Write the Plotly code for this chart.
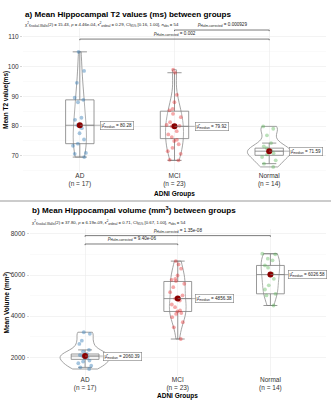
import numpy as np
import plotly.graph_objects as go

groups = ["AD", "MCI", "Normal"]
group_n = [17, 23, 14]
group_colors = ["rgba(55,126,184,0.45)", "rgba(228,26,28,0.38)", "rgba(77,175,74,0.38)"]

# Panel a: mean hippocampal T2 values (ms)
t2_AD = [104.9, 98.5, 94.5, 89.5, 88.8, 88.0, 82.8, 82.1, 80.28, 79.3, 77.6, 75.5, 74.1, 73.4, 71.0, 70.7, 69.6]
t2_MCI = [98.9, 97.9, 90.5, 88.0, 85.8, 85.3, 84.1, 83.0, 81.3, 80.4, 80.1, 79.92, 78.3, 77.2, 76.3, 75.4,
          75.0, 73.9, 72.7, 71.6, 70.7, 68.7, 68.5]
t2_Normal = [79.9, 79.1, 76.9, 74.3, 73.2, 72.6, 71.8, 71.38, 70.9, 70.5, 69.6, 68.5, 67.4, 66.3]
t2_median = [80.28, 79.92, 71.59]
t2_q1 = [74.1, 75.8, 70.2]
t2_q3 = [88.8, 85.0, 72.6]
t2_pairs = [("MCI", "Normal"), ("AD", "Normal")]
t2_p = ["0.000929", "0.002"]
t2_title = "a) Mean Hippocampal T2 values (ms) between groups"
t2_subtitle = ("χ<sup>2</sup><sub>Kruskal-Wallis</sub>(2) = 15.43, <i>p</i> = 4.46e-04, "
               "ε̂<sup>2</sup><sub>ordinal</sub> = 0.29, CI<sub>95%</sub> [0.16, 1.00], <i>n</i><sub>obs</sub> = 54")
t2_ylabel = "Mean T2 value(ms)"

# Panel b: mean hippocampal volume (mm3)
vol_AD = [3220, 3140, 2810, 2650, 2360, 2280, 2160, 2110, 2060.39, 2000, 1970, 1840, 1790, 1710, 1590, 1510, 1430]
vol_MCI = [6680, 6520, 6310, 5980, 5820, 5770, 5710, 5580, 5410, 5170, 5010, 4856.38, 4760, 4570, 4440, 4280,
           4230, 4150, 4110, 3950, 3710, 3460, 2890]
vol_Normal = [7040, 7010, 6800, 6720, 6470, 6360, 6070, 5983.16, 5820, 5500, 5300, 5090, 5010, 4520]
vol_median = [2060.39, 4856.38, 6026.58]
vol_q1 = [1900, 4230, 5090]
vol_q3 = [2160, 5690, 6470]
vol_pairs = [("AD", "Normal"), ("AD", "MCI")]
vol_p = ["1.35e-08", "9.40e-06"]
vol_title = "b) Mean Hippocampal volume (mm<sup>3</sup>) between groups"
vol_subtitle = ("χ<sup>2</sup><sub>Kruskal-Wallis</sub>(2) = 37.80, <i>p</i> = 6.19e-09, "
                "ε̂<sup>2</sup><sub>ordinal</sub> = 0.71, CI<sub>95%</sub> [0.67, 1.00], <i>n</i><sub>obs</sub> = 54")
vol_ylabel = "Mean Volume (mm<sup>3</sup>)"

x_title = "ADNI Groups"

FONT = "Liberation Sans, Arial, sans-serif"
W, H = 331, 400

panels = [
    dict(data=[t2_AD, t2_MCI, t2_Normal], med=t2_median, q1=t2_q1, q3=t2_q3, pairs=t2_pairs, p=t2_p,
         title=t2_title, sub=t2_subtitle, ylab=t2_ylabel, xs="x", ys="y",
         xdom=[23, 326], ydom=[28, 172], yrange=[64.6, 112.9], dtick=10, minor=5,
         vw=[0.14, 0.19, 0.46], bfrac=[0.986, 0.923], title_px=(23, 14.5, 24.5), ylab_x=6, xlab_y=194),
    dict(data=[vol_AD, vol_MCI, vol_Normal], med=vol_median, q1=vol_q1, q3=vol_q3, pairs=vol_pairs, p=vol_p,
         title=vol_title, sub=vol_subtitle, ylab=vol_ylabel, xs="x2", ys="y2",
         xdom=[29.5, 326], ydom=[229, 376], yrange=[1090, 8243], dtick=2000, minor=1000,
         vw=[0.54, 0.18, 0.20], bfrac=[0.955, 0.898], title_px=(30, 210, 222.5), ylab_x=7, xlab_y=396),
]

fig = go.Figure()
annotations = []
shapes = []

def nrd0(v):
    v = np.asarray(v, float)
    sd = v.std(ddof=1)
    iqr = np.subtract(*np.percentile(v, [75, 25]))
    return 0.9 * min(sd, iqr / 1.34) * len(v) ** -0.2

for pi, P in enumerate(panels):
    xs, ys = P["xs"], P["ys"]
    for gi, g in enumerate(groups):
        vals = P["data"][gi]
        arr = np.asarray(vals, float)
        q1, q3 = P["q1"][gi], P["q3"][gi]
        iqr = q3 - q1
        lo = arr[arr >= q1 - 1.5 * iqr].min()
        hi = arr[arr <= q3 + 1.5 * iqr].max()
        # violin
        fig.add_trace(go.Violin(x=[g] * len(vals), y=vals, xaxis=xs, yaxis=ys, width=P["vw"][gi],
                                spanmode="hard", bandwidth=nrd0(vals), points=False,
                                scalegroup="%s_%s" % (pi, g),
                                line=dict(color="#8C8C8C", width=0.8), fillcolor="rgba(255,255,255,0)",
                                box_visible=False, meanline_visible=False, showlegend=False, hoverinfo="skip"))
        # box (stats)
        fig.add_trace(go.Box(x=[g], q1=[q1], median=[P["med"][gi]], q3=[q3], lowerfence=[lo], upperfence=[hi],
                             xaxis=xs, yaxis=ys, width=0.3, boxpoints=False,
                             line=dict(color="#7F7F7F", width=0.8), fillcolor="rgba(255,255,255,0.15)",
                             showlegend=False, hoverinfo="skip"))
        # jittered points
        fig.add_trace(go.Box(x=[g] * len(vals), y=vals, xaxis=xs, yaxis=ys, width=0.3, boxpoints="all",
                             jitter=0.6, pointpos=0, line=dict(color="rgba(0,0,0,0)", width=0),
                             fillcolor="rgba(0,0,0,0)",
                             marker=dict(color=group_colors[gi], size=3.8, line=dict(width=0)),
                             showlegend=False, hoverinfo="skip"))
    # centrality points
    fig.add_trace(go.Scatter(x=groups, y=P["med"], xaxis=xs, yaxis=ys, mode="markers",
                             marker=dict(color="#8B0000", size=6), showlegend=False, hoverinfo="skip"))
    # centrality labels
    for gi, g in enumerate(groups):
        annotations.append(dict(x=gi, y=P["med"][gi], xref=xs, yref=ys,
                                text="μ̂<sub>median</sub> = %.2f" % P["med"][gi],
                                showarrow=True, arrowhead=0, arrowwidth=0.6, arrowcolor="#7F7F7F",
                                ax=37, ay=0, axref="pixel", ayref="pixel", standoff=0,
                                bgcolor="white", bordercolor="#7F7F7F", borderwidth=0.6, borderpad=1,
                                font=dict(family=FONT, size=4.6, color="#222")))
    # brackets
    lo_r, hi_r = P["yrange"]
    for bi, (a, b) in enumerate(P["pairs"]):
        yb = lo_r + P["bfrac"][bi] * (hi_r - lo_r)
        tip = 0.008 * (hi_r - lo_r)
        fig.add_trace(go.Scatter(x=[a, a, b, b], y=[yb - tip, yb, yb, yb - tip], xaxis=xs, yaxis=ys,
                                 mode="lines", line=dict(color="#444", width=0.7),
                                 showlegend=False, hoverinfo="skip", cliponaxis=False))
        xc = (groups.index(a) + groups.index(b)) / 2
        annotations.append(dict(x=xc, y=yb, xref=xs, yref=ys, yanchor="bottom", showarrow=False,
                                text="<i>p</i><sub>Holm-corrected</sub> = " + P["p"][bi],
                                font=dict(family=FONT, size=4.6, color="#222")))
    # titles
    tx, ty, sy = P["title_px"]
    annotations.append(dict(x=tx / W, y=1 - ty / H, xref="paper", yref="paper", xanchor="left", yanchor="middle",
                            showarrow=False, text="<b>" + P["title"] + "</b>",
                            font=dict(family=FONT, size=8.1, color="#000")))
    annotations.append(dict(x=tx / W, y=1 - sy / H, xref="paper", yref="paper", xanchor="left", yanchor="middle",
                            showarrow=False, text=P["sub"], font=dict(family=FONT, size=4.3, color="#222")))
    # y title
    annotations.append(dict(x=P["ylab_x"] / W, y=1 - (P["ydom"][0] + P["ydom"][1]) / 2 / H, xref="paper",
                            yref="paper", xanchor="center", yanchor="middle", textangle=-90, showarrow=False,
                            text="<b>" + P["ylab"] + "</b>", font=dict(family=FONT, size=6.5, color="#000")))
    # x title
    annotations.append(dict(x=(P["xdom"][0] + (P["xdom"][1] - P["xdom"][0]) * 1.6 / 3.2) / W,
                            y=1 - P["xlab_y"] / H, xref="paper", yref="paper", xanchor="center",
                            yanchor="middle", showarrow=False, text="<b>" + x_title + "</b>",
                            font=dict(family=FONT, size=6.5, color="#000")))

    axx = dict(domain=[P["xdom"][0] / W, P["xdom"][1] / W], anchor=ys, type="category",
               categoryorder="array", categoryarray=groups, range=[-0.6, 2.6],
               tickvals=groups, ticktext=["%s<br>(n = %d)" % (g, n) for g, n in zip(groups, group_n)],
               showgrid=True, gridcolor="#EBEBEB", gridwidth=0.6, zeroline=False, showline=False,
               ticks="", ticklabelstandoff=-2, tickfont=dict(family=FONT, size=6.5, color="#333"))
    axy = dict(domain=[1 - P["ydom"][1] / H, 1 - P["ydom"][0] / H], anchor=xs, range=P["yrange"],
               dtick=P["dtick"], tick0=0, showgrid=True, gridcolor="#EBEBEB", gridwidth=0.6,
               minor=dict(dtick=P["minor"], tick0=0, showgrid=True, gridcolor="#F5F5F5", gridwidth=0.5),
               zeroline=False, showline=False, ticks="outside", ticklen=2, tickcolor="#BBBBBB",
               tickwidth=0.6, tickfont=dict(family=FONT, size=6.5, color="#333"))
    suffix = "" if pi == 0 else "2"
    fig.layout["xaxis" + suffix] = axx
    fig.layout["yaxis" + suffix] = axy

shapes.append(dict(type="line", xref="paper", yref="paper", x0=0, x1=1, y0=1 - 201 / H, y1=1 - 201 / H,
                   line=dict(color="#999999", width=1)))

fig.update_layout(width=W, height=H, margin=dict(l=0, r=0, t=0, b=0), paper_bgcolor="white",
                  plot_bgcolor="white", annotations=annotations, shapes=shapes,
                  boxmode="overlay", violinmode="overlay", showlegend=False, hovermode=False,
                  font=dict(family=FONT))
fig.write_html("out.html", config={"displayModeBar": False, "staticPlot": True},
               post_script="document.body.style.margin='0';document.body.style.padding='0';")
